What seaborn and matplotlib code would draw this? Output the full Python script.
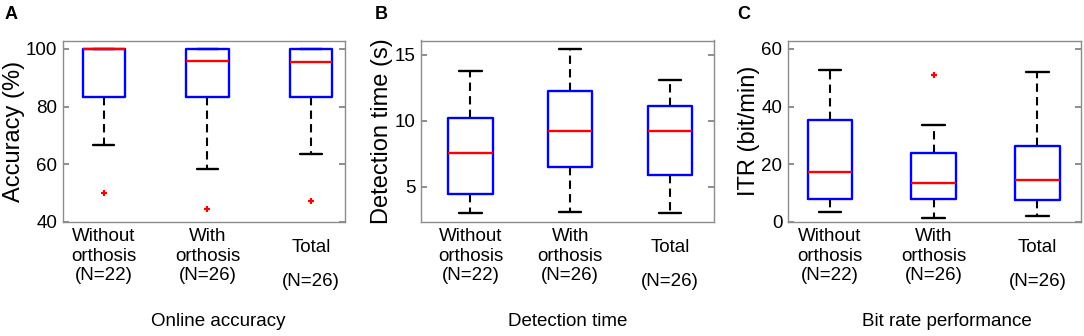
import numpy as np
import matplotlib
matplotlib.use('Agg')
import matplotlib.pyplot as plt
import seaborn as sns

# groups shown on each panel
groups = ['Without\northosis\n(N=22)', 'With\northosis\n(N=26)', 'Total\n(N=26)']

# A: online accuracy (%)
acc_med = [100, 95.8, 95.5]
acc_q1 = [83.3, 83.3, 83.3]
acc_q3 = [100, 100, 100]
acc_lo = [66.7, 58.3, 63.5]
acc_hi = [100, 100, 100]
acc_out = [[50.0], [44.5], [47.2]]

# B: detection time (s)
det_med = [7.55, 9.26, 9.26]
det_q1 = [4.45, 6.52, 5.89]
det_q3 = [10.23, 12.26, 11.09]
det_lo = [2.98, 3.08, 3.0]
det_hi = [13.82, 15.48, 13.12]
det_out = [[], [], []]

# C: ITR (bit/min)
itr_med = [17.3, 13.5, 14.5]
itr_q1 = [7.9, 8.1, 7.6]
itr_q3 = [35.2, 23.8, 26.4]
itr_lo = [3.5, 1.4, 2.2]
itr_hi = [52.7, 33.5, 52.1]
itr_out = [[], [51.1], []]

sns.set_theme(style='white')
plt.rcParams['font.family'] = ['Liberation Sans', 'DejaVu Sans']
plt.rcParams['text.color'] = 'black'
plt.rcParams['axes.labelcolor'] = 'black'

W, H = 1084, 336
fig = plt.figure(figsize=(W / 100, H / 100), dpi=100)

panels = [
    dict(letter='A', lx=5, left=63, right=345, xlim=(0.606, 3.328), width=0.41,
         ylim=(40, 102.9), yticks=[40, 60, 80, 100], ylabel='Accuracy (%)',
         title='Online accuracy', tx=0.55,
         data=(acc_med, acc_q1, acc_q3, acc_lo, acc_hi, acc_out)),
    dict(letter='B', lx=375, left=421, right=714, xlim=(0.505, 3.44), width=0.445,
         ylim=(2.32, 16.1), yticks=[5, 10, 15], ylabel='Detection time (s)',
         title='Detection time', tx=0.5,
         data=(det_med, det_q1, det_q3, det_lo, det_hi, det_out)),
    dict(letter='C', lx=737, left=788, right=1081, xlim=(0.597, 3.42), width=0.43,
         ylim=(0, 62.9), yticks=[0, 20, 40, 60], ylabel='ITR (bit/min)',
         title='Bit rate performance', tx=0.543,
         data=(itr_med, itr_q1, itr_q3, itr_lo, itr_hi, itr_out)),
]

top, bottom = 40.5, 222
for p in panels:
    ax = fig.add_axes([p['left'] / W, 1 - bottom / H,
                       (p['right'] - p['left']) / W, (bottom - top) / H])
    med, q1, q3, lo, hi, out = p['data']
    stats = [dict(med=med[i], q1=q1[i], q3=q3[i], whislo=lo[i], whishi=hi[i],
                  fliers=out[i]) for i in range(3)]
    ax.bxp(stats, positions=[1, 2, 3], widths=p['width'], capwidths=p['width'] / 2,
           boxprops=dict(color='#0000ff', lw=1.7, zorder=3),
           medianprops=dict(color='#ff0000', lw=1.7, zorder=4),
           whiskerprops=dict(color='black', lw=1.5, linestyle=(0, (4, 2.5)), zorder=2),
           capprops=dict(color='black', lw=1.7, zorder=2),
           flierprops=dict(marker='+', markeredgecolor='#ff0000', markersize=5, mew=1.6))
    ax.set_xlim(p['xlim'])
    ax.set_ylim(p['ylim'])
    ax.set_yticks(p['yticks'])
    ax.set_xticks([1, 2, 3])
    ax.set_xticklabels(['', '', ''])
    ax.tick_params(axis='x', length=0)
    ax.tick_params(axis='y', direction='in', left=True, right=True, length=4,
                   color='#808080', labelsize=13.5, pad=4, labelcolor='black')
    for s in ax.spines.values():
        s.set_color('#8c8c8c')
        s.set_linewidth(1)
    ax.set_ylabel(p['ylabel'], fontsize=17, labelpad=1)

    # category labels under the axis
    for x, lab in zip([1, 2], groups[:2]):
        ax.annotate(lab, xy=(x, 0), xycoords=('data', 'axes fraction'),
                    xytext=(0, -4.5), textcoords='offset points',
                    ha='center', va='top', fontsize=13.5, linespacing=1.2)
    ax.annotate(groups[2], xy=(3, 0), xycoords=('data', 'axes fraction'),
                xytext=(0, -12.5), textcoords='offset points',
                ha='center', va='top', fontsize=13.5, linespacing=2.3)

    ax.set_xlabel(p['title'], fontsize=13.5)
    ax.xaxis.set_label_coords(p['tx'], -0.5)

    fig.text(p['lx'] / W, 1 - 6 / H, p['letter'], fontsize=13, fontweight='bold',
             va='top', ha='left')

fig.savefig('out.png', dpi=100)
